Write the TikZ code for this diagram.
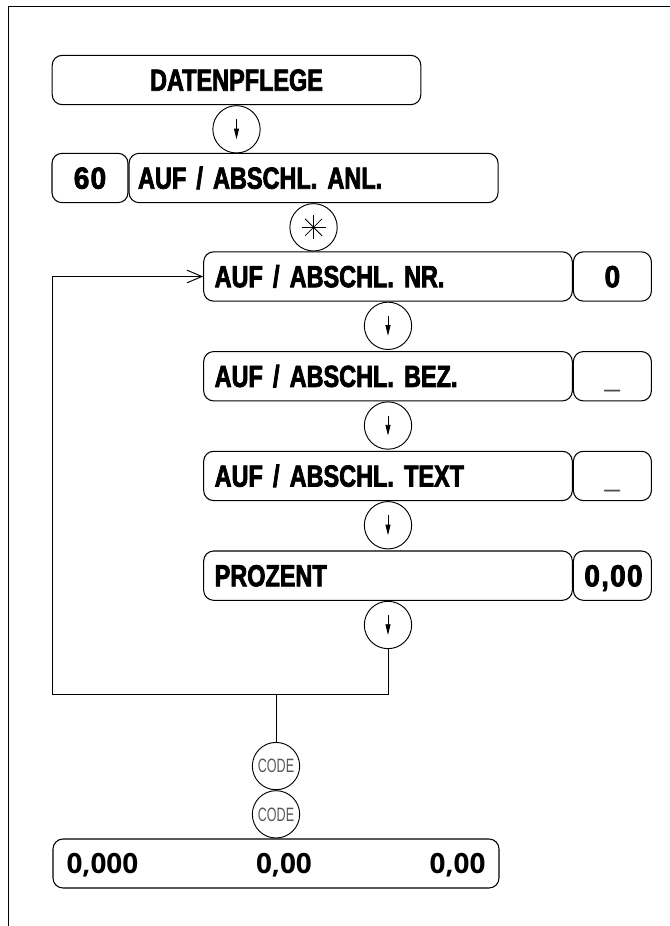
\documentclass[tikz,border=0pt]{standalone}
\usepackage{fontspec}
\setmainfont{Liberation Sans}
\newfontfamily\schmalfont[FakeStretch=0.77,WordSpace=2.3,
  BoldFeatures={FakeBold=2.5}]{Liberation Sans}
\newfontfamily\breitfont[FakeStretch=0.92,LetterSpace=4,
  BoldFeatures={FakeBold=2.5}]{Liberation Sans}
\newfontfamily\zahlfont{Open Sans}
\newfontfamily\codefont[FakeStretch=0.65]{Liberation Sans}
\usetikzlibrary{arrows.meta, positioning}
\tikzset{
  feld/.style={rectangle, rounded corners=0.3cm, draw=black, line width=0.9pt,
               minimum height=1.48cm, text width=10.4cm, inner xsep=0.33cm,
               inner ysep=0pt, align=left, text height=0.64cm, text depth=0pt,
               font=\schmalfont\bfseries\fontsize{26}{29}\selectfont},
  wert/.style={feld, text width=1.68cm, align=center,
               font=\breitfont\bfseries\fontsize{26}{29}\selectfont},
  kreis/.style={circle, draw=black, line width=0.8pt, minimum size=1.42cm,
                inner sep=0pt},
  linie/.style={line width=0.8pt}
}

\begin{document}
\begin{tikzpicture}[
  pfeil/.style={kreis, path picture={
      \draw[line width=0.7pt, -{Triangle[length=0.32cm, width=0.15cm]}]
        ([yshift=0.3cm]path picture bounding box.center)
        -- ([yshift=-0.3cm]path picture bounding box.center);}},
  stern/.style={kreis, path picture={
      \foreach \w in {0,45,90,135}
        \draw[line width=0.7pt]
          ([shift={(\w:0.36cm)}]path picture bounding box.center)
          -- ([shift={({\w+180}:0.36cm)}]path picture bounding box.center);}},
  code/.style={kreis, font=\codefont\fontsize{16.5}{18}\selectfont,
               text=black!65},
  strich/.style={font=\fontsize{23.5}{26}\selectfont, text=black!70},
  summe/.style={rectangle, rounded corners=0.3cm, draw=black, line width=0.9pt,
                minimum height=1.47cm, text width=12.57cm, inner xsep=0.405cm,
                inner ysep=0pt, text height=0.6cm, text depth=0pt,
                font=\zahlfont\bfseries\fontsize{23.8}{26}\selectfont},
  rueck/.style={linie, -{Straight Barb[length=0.45cm, width=0.38cm]}},
  rahmen/.style={line width=0.7pt}
]
  \useasboundingbox (0,0) rectangle (20.1,-27.78);
  \draw[rahmen] (0.25,-27.78) |- (20.1,-0.18);

  % Kopf
  \node[feld, align=center] (datpfl) at (7.095,-2.4) {DATENPFLEGE};
  \node[pfeil, below=0pt of datpfl] (arr1) {};
  \node[wert, text width=1.62cm] (nr60) at (2.7,-5.34) {60};
  \node[feld, right=0pt of nr60, inner xsep=0.27cm, text width=10.53cm] (anl)
        {AUF / ABSCHL. ANL.};
  \node[stern, below=0pt of anl] (stern) {};

  % Eingabeschleife
  \node[feld] (nr) at (11.64,-8.295) {AUF / ABSCHL. NR.};
  \node[wert, right=0pt of nr] (nrwert) {0};
  \node[pfeil, below=0pt of nr] (arr2) {};
  \node[feld, below=1.48cm of nr] (bez) {AUF / ABSCHL. BEZ.};
  \node[wert, right=0pt of bez, strich] (bezwert) {\_};
  \node[pfeil, below=0pt of bez] (arr3) {};
  \node[feld, below=1.48cm of bez] (text) {AUF / ABSCHL. TEXT};
  \node[wert, right=0pt of text, strich] (textwert) {\_};
  \node[pfeil, below=0pt of text] (arr4) {};
  \node[feld, below=1.48cm of text] (proz) {PROZENT};
  \node[wert, right=0pt of proz] (prozwert) {0,00};
  \node[pfeil, below=0pt of proz] (arr5) {};

  % Abschluss
  \node[summe] (summe) at (8.28,-25.905) {0,000\hfill 0,00\hfill 0,00};
  \node[code, above=0pt of summe] (code2) {CODE};
  \node[code, above=0pt of code2] (code1) {CODE};

  \coordinate (knick) at (1.56,-20.82);
  \coordinate (abzweig) at (code1 |- knick);
  \draw[linie] (arr5.south) |- (knick);
  \draw[rueck] (knick) |- (nr.west);
  \draw[linie] (abzweig) -- (code1);
\end{tikzpicture}
\end{document}
